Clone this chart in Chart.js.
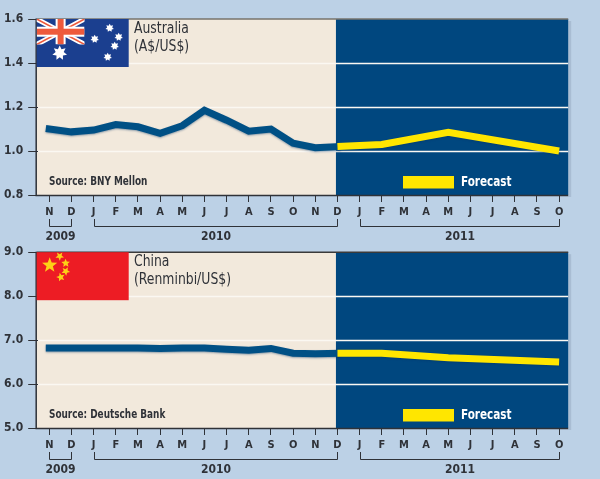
<!DOCTYPE html>
<html><head><meta charset="utf-8">
<script src="https://cdn.jsdelivr.net/npm/chart.js@4/dist/chart.umd.js"></script>
<style>
html,body{margin:0;padding:0;width:600px;height:479px;overflow:hidden;background:#bcd1e6}
canvas{position:absolute;left:0}
#c1{top:0}#c2{top:240px}
</style></head><body>
<canvas id="c1" width="600" height="250"></canvas>
<canvas id="c2" width="600" height="239"></canvas>
<script>
const months = ['N','D','J','F','M','A','M','J','J','A','S','O','N','D','J','F','M','A','M','J','J','A','S','O'];
const yearLabels = ['2009','2010','2011'];
const yearFirstIndex = [0,2,14];
const yearLastIndex = [1,13,23];
const ausTicks = [0.8,1.0,1.2,1.4,1.6];
const chinaTicks = [5,6,7,8,9];
const ausActual = [1.10,1.087,1.095,1.12,1.11,1.08,1.115,1.185,1.14,1.09,1.10,1.035,1.015,1.02,null,null,null,null,null,null,null,null,null,null];
const ausForecast = [null,null,null,null,null,null,null,null,null,null,null,null,null,1.02,null,1.03,null,null,1.085,null,null,null,null,1.0];
const chinaActual = [6.82,6.82,6.82,6.82,6.82,6.81,6.82,6.82,6.79,6.77,6.81,6.70,6.69,6.70,null,null,null,null,null,null,null,null,null,null];
const chinaForecast = [null,null,null,null,null,null,null,null,null,null,null,null,null,6.70,null,6.70,null,null,6.60,null,null,null,null,6.50];

const INK='#2f3238', BEIGE='#f2e9dc', PANEL='#00477f', LINE='#005085', YEL='#ffe600';
const FONT='"DejaVu Sans Condensed","Liberation Sans",sans-serif';

function star(ctx,x,y,r,pts,inner,rot){
  ctx.beginPath();
  for(let i=0;i<pts*2;i++){
    const a=(rot||-Math.PI/2)+i*Math.PI/pts, q=i%2?r*inner:r;
    ctx.lineTo(x+q*Math.cos(a),y+q*Math.sin(a));
  }
  ctx.closePath();ctx.fill();
}
function ausFlag(ctx,x,y,w,h){
  ctx.fillStyle='#1b3f8f';ctx.fillRect(x,y,w,h);
  const uw=w*0.52,uh=h*0.53;
  ctx.save();ctx.beginPath();ctx.rect(x,y,uw,uh);ctx.clip();
  ctx.strokeStyle='#fff';ctx.lineWidth=5;
  ctx.beginPath();ctx.moveTo(x,y);ctx.lineTo(x+uw,y+uh);ctx.moveTo(x+uw,y);ctx.lineTo(x,y+uh);ctx.stroke();
  ctx.strokeStyle='#ee5a3c';ctx.lineWidth=1.6;
  ctx.beginPath();ctx.moveTo(x,y);ctx.lineTo(x+uw,y+uh);ctx.moveTo(x+uw,y);ctx.lineTo(x,y+uh);ctx.stroke();
  ctx.fillStyle='#fff';ctx.fillRect(x+uw/2-5,y,10,uh);ctx.fillRect(x,y+uh/2-5,uw,10);
  ctx.fillStyle='#ee5a3c';ctx.fillRect(x+uw/2-3,y,6,uh);ctx.fillRect(x,y+uh/2-3,uw,6);
  ctx.restore();
  ctx.fillStyle='#fff';
  star(ctx,x+23,y+34,7.5,7,0.55);
  [[73,9],[82,18],[78,27],[71,38],[58,20]].forEach(p=>star(ctx,x+p[0],y+p[1],4.3,7,0.6));
}
function chinaFlag(ctx,x,y,w,h){
  ctx.fillStyle='#ed1c24';ctx.fillRect(x,y,w,h);
  ctx.fillStyle='#fdd116';
  star(ctx,x+13,y+13,8,5,0.42);
  [[23,4,0.3],[29,11,0.9],[29,19,0.2],[24,25,0.7]].forEach(p=>star(ctx,x+p[0],y+p[1],4.5,5,0.45,p[2]));
}
function narrowText(ctx,text,x,y,sx){
  ctx.save();ctx.translate(x,y);ctx.scale(sx,1);ctx.fillText(text,0,0);ctx.restore();
}

function panel(cfg){
  return {
    id:'panel',
    beforeDraw(chart){
      const {ctx,chartArea:a,scales:{x,y}}=chart;
      const L=a.left-1.5,R=a.right-2,xf=x.getPixelForValue(13)-1.5;
      ctx.save();
      ctx.fillStyle='#a9bdd3';ctx.fillRect(R,a.top+2,3,a.height);
      ctx.fillStyle=BEIGE;ctx.fillRect(L,a.top,xf-L,a.height);
      ctx.fillStyle=PANEL;ctx.fillRect(xf,a.top,R-xf,a.height);
      ctx.strokeStyle='#fbf8f2';ctx.lineWidth=1.5;
      y.ticks.forEach((t,i)=>{
        if(i===0||i===y.ticks.length-1)return;
        const p=Math.round(y.getPixelForTick(i))+0.5;
        ctx.beginPath();ctx.moveTo(L,p);ctx.lineTo(R,p);ctx.stroke();
      });
      ctx.restore();
    },
    beforeDatasetsDraw(chart){
      const ctx=chart.ctx;
      ctx.save();
      ctx.shadowColor='rgba(0,50,100,0.4)';ctx.shadowBlur=2;ctx.shadowOffsetY=1;
    },
    afterDatasetsDraw(chart){
      const {ctx,chartArea:a,scales:{x}}=chart;
      ctx.restore();
      const L=a.left-1.5,R=a.right-2;
      ctx.save();
      ctx.strokeStyle=cfg.frame;ctx.lineWidth=1.5;
      ctx.beginPath();ctx.moveTo(L,a.top);ctx.lineTo(R,a.top);ctx.stroke();
      ctx.strokeStyle=INK;
      ctx.beginPath();ctx.moveTo(L-0.5,a.top-0.5);ctx.lineTo(L-0.5,a.bottom+0.5);ctx.lineTo(R,a.bottom+0.5);ctx.stroke();
      cfg.flag(ctx,L,a.top,92,48);
      ctx.fillStyle=INK;ctx.textBaseline='middle';ctx.textAlign='left';
      ctx.font='15px '+FONT;
      narrowText(ctx,cfg.title[0],134,a.top+10,0.92);
      narrowText(ctx,cfg.title[1],134,a.top+28,0.92);
      ctx.font='bold 11.5px '+FONT;
      narrowText(ctx,cfg.source,49,a.bottom-13,0.86);
      ctx.fillStyle=YEL;ctx.fillRect(403,a.bottom-19,51,12.5);
      ctx.fillStyle='#fff';ctx.font='bold 14px '+FONT;
      narrowText(ctx,'Forecast',461,a.bottom-13,0.83);
      ctx.strokeStyle=INK;ctx.lineWidth=1;ctx.fillStyle=INK;
      const by=a.bottom+cfg.bracket;
      yearLabels.forEach((lab,i)=>{
        const x0=Math.round(x.getPixelForValue(yearFirstIndex[i]))+0.5,x1=Math.round(x.getPixelForValue(yearLastIndex[i]))+0.5;
        ctx.beginPath();ctx.moveTo(x0,by-7);ctx.lineTo(x0,by+0.5);ctx.lineTo(x1,by+0.5);ctx.lineTo(x1,by-7);ctx.stroke();
        ctx.textAlign='center';ctx.font='bold 12px '+FONT;
        ctx.fillText(lab,(x0+x1)/2,by+11);
      });
      ctx.restore();
    }
  };
}

function make(id,cfg){
  new Chart(document.getElementById(id),{
    type:'line',
    plugins:[panel(cfg)],
    data:{labels:months,datasets:[
      {label:'Actual',data:cfg.actual,borderColor:LINE,borderWidth:7,pointRadius:0,tension:0,borderCapStyle:'square',borderJoinStyle:'miter',order:2},
      {label:'Forecast',data:cfg.forecast,borderColor:YEL,borderWidth:7,pointRadius:0,tension:0,spanGaps:true,borderCapStyle:'butt',borderJoinStyle:'miter',order:1}
    ]},
    options:{
      responsive:false,animation:false,
      layout:{padding:{top:cfg.top,right:29.8,left:0,bottom:0}},
      plugins:{legend:{display:false},tooltip:{enabled:false}},
      scales:{
        x:{
          offset:true,
          afterFit(s){s.height=cfg.xh;},
          grid:{offset:false,drawOnChartArea:false,tickLength:7,tickColor:INK,tickWidth:1},
          border:{display:false},
          ticks:{autoSkip:false,maxRotation:0,minRotation:0,padding:4,color:INK,font:{family:FONT,size:11,weight:'bold'}}
        },
        y:{
          min:cfg.ticks[0],max:cfg.ticks[cfg.ticks.length-1],
          afterFit(s){s.width=38.2;},
          afterBuildTicks(s){s.ticks=cfg.ticks.map(v=>({value:v}));},
          grid:{drawOnChartArea:false,tickLength:10,tickColor:INK,tickWidth:1},
          border:{display:false},
          ticks:{padding:5,color:INK,callback:v=>Number(v).toFixed(1),font:{family:FONT,size:12,weight:'bold'}}
        }
      }
    }
  });
}
make('c1',{actual:ausActual,forecast:ausForecast,ticks:ausTicks,top:19,xh:55,bracket:31,frame:'#77736c',flag:ausFlag,title:['Australia','(A$/US$)'],source:'Source: BNY Mellon'});
make('c2',{actual:chinaActual,forecast:chinaForecast,ticks:chinaTicks,top:12,xh:51,bracket:31,frame:'#3a3a3a',flag:chinaFlag,title:['China','(Renminbi/US$)'],source:'Source: Deutsche Bank'});
</script>
</body></html>
